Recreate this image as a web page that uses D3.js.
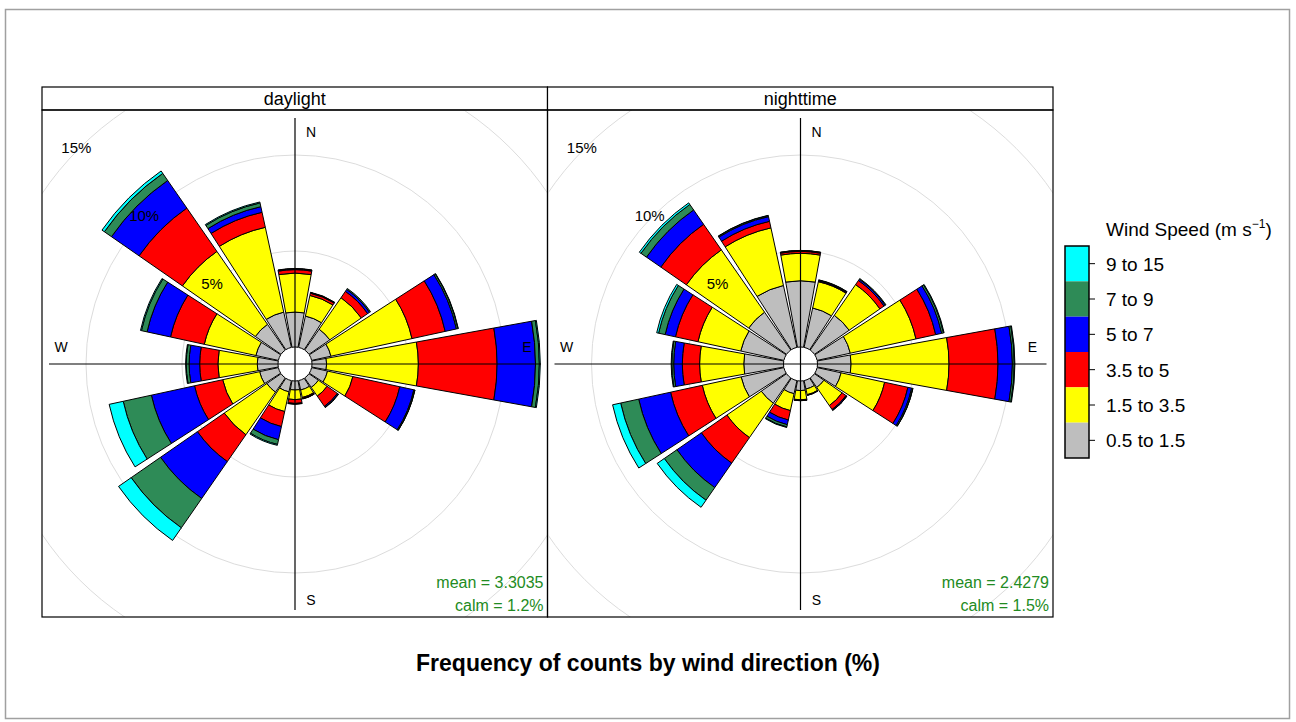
<!DOCTYPE html>
<html lang="en">
<head>
  <meta charset="utf-8">
  <title>Wind rose: daylight vs nighttime</title>
  <script src="https://d3js.org/d3.v7.min.js"></script>
  <style>
    body { margin: 0; background: #fff; }
    text { font-family: "Liberation Sans", Arial, sans-serif; }
  </style>
</head>
<body>
<script>
// wind directions (16 sectors)
var dirs = ["N","NNE","NE","ENE","E","ESE","SE","SSE","S","SSW","SW","WSW","W","WNW","NW","NNW"];
var dirAngles = [0, 22.5, 45, 67.5, 90, 112.5, 135, 157.5, 180, 202.5, 225, 247.5, 270, 292.5, 315, 337.5];

// speed bins and colours
var speedBins = ["0.5 to 1.5", "1.5 to 3.5", "3.5 to 5", "5 to 7", "7 to 9", "9 to 15"];
var binColors = ["#bebebe", "#ffff00", "#ff0000", "#0000ff", "#2e8b57", "#00ffff"];

// frequency (%) per direction, daylight
var dayGray   = [1.82, 1.67, 1.32, 1.03, 0.76, 0.85, 0.60, 0.50, 0.47, 0.60, 0.90, 1.00, 1.08, 1.20, 1.63, 1.88];
var dayYellow = [2.03, 1.10, 2.00, 4.32, 4.78, 1.35, 0.55, 0.40, 0.50, 1.05, 2.70, 1.97, 2.05, 2.75, 4.62, 4.52];
var dayRed    = [0.18, 0.12, 0.40, 1.77, 4.10, 2.50, 0.65, 0.05, 0.20, 0.80, 1.70, 1.50, 0.95, 1.80, 2.75, 0.80];
var dayBlue   = [0.04, 0.03, 0.12, 0.60, 2.00, 0.75, 0.06, 0.02, 0.03, 0.70, 2.34, 2.30, 0.55, 1.25, 1.75, 0.30];
var dayGreen  = [0.02, 0.02, 0.06, 0.08, 0.20, 0.05, 0.02, 0.01, 0.01, 0.25, 1.86, 1.50, 0.15, 0.30, 0.45, 0.20];
var dayCyan   = [0.00, 0.00, 0.00, 0.02, 0.05, 0.01, 0.00, 0.00, 0.00, 0.05, 0.80, 0.75, 0.03, 0.05, 0.15, 0.05];

// frequency (%) per direction, nighttime
var nightGray   = [3.45, 2.10, 2.20, 1.77, 1.75, 1.28, 0.60, 0.45, 0.50, 0.70, 1.60, 2.28, 2.07, 2.30, 2.40, 3.30];
var nightYellow = [1.43, 1.40, 1.95, 3.50, 5.10, 2.32, 1.15, 0.30, 0.48, 0.90, 2.18, 2.07, 2.30, 2.28, 3.95, 3.07];
var nightRed    = [0.10, 0.04, 0.26, 1.05, 2.55, 1.24, 0.25, 0.03, 0.04, 0.50, 1.62, 1.69, 0.90, 1.20, 1.62, 0.35];
var nightBlue   = [0.04, 0.04, 0.08, 0.32, 0.75, 0.20, 0.05, 0.01, 0.01, 0.25, 1.55, 1.70, 0.45, 0.55, 0.91, 0.25];
var nightGreen  = [0.01, 0.02, 0.04, 0.10, 0.10, 0.06, 0.01, 0.00, 0.00, 0.12, 0.80, 0.96, 0.10, 0.35, 0.35, 0.05];
var nightCyan   = [0.00, 0.00, 0.00, 0.03, 0.03, 0.01, 0.00, 0.00, 0.00, 0.03, 0.45, 0.43, 0.03, 0.10, 0.10, 0.02];

var panelNames = ["daylight", "nighttime"];
var meanLabels = ["mean = 3.3035", "mean = 2.4279"];
var calmLabels = ["calm = 1.2%", "calm = 1.5%"];
var ringTicks = [5, 10, 15, 20];
var ringLabels = ["5%", "10%", "15%"];

var panels = [
  { name: panelNames[0], series: [dayGray, dayYellow, dayRed, dayBlue, dayGreen, dayCyan], mean: meanLabels[0], calm: calmLabels[0] },
  { name: panelNames[1], series: [nightGray, nightYellow, nightRed, nightBlue, nightGreen, nightCyan], mean: meanLabels[1], calm: calmLabels[1] }
];

var W = 1296, H = 722;
var svg = d3.select("body").append("svg").attr("width", W).attr("height", H);

// outer frame
svg.append("rect").attr("x", 5.5).attr("y", 9.5).attr("width", 1284).attr("height", 709)
  .attr("fill", "#fff").attr("stroke", "#a0a0a0").attr("stroke-width", 1.5);

var panelLeft = 42, panelW = 505.5, stripTop = 87, stripBot = 110, panelBot = 617;
var cy = 364;

// radial scale: offset of 17px (calm circle), 19.2px per percent
var r = d3.scaleLinear().domain([0, 15]).range([17, 17 + 15 * 19.2]);
var halfW = (11.25 - 1) * Math.PI / 180;
var arc = d3.arc();
var axisLen = 246;

panels.forEach(function(p, pi) {
  var x0 = panelLeft + pi * panelW;
  var cx = x0 + 253;
  var g = svg.append("g");

  g.append("clipPath").attr("id", "clip" + pi)
    .append("rect").attr("x", x0).attr("y", stripBot).attr("width", panelW).attr("height", panelBot - stripBot);

  // grid rings
  var rings = g.append("g").attr("clip-path", "url(#clip" + pi + ")");
  rings.selectAll("circle").data(ringTicks).enter().append("circle")
    .attr("cx", cx).attr("cy", cy).attr("r", function(d) { return r(d); })
    .attr("fill", "none").attr("stroke", "#dcdcdc").attr("stroke-width", 1);

  // wedges, stacked outward by speed bin
  var wedges = g.append("g").attr("transform", "translate(" + cx + "," + cy + ")");
  dirs.forEach(function(dname, i) {
    var a = dirAngles[i] * Math.PI / 180;
    var cum = 0;
    p.series.forEach(function(s, k) {
      var v = s[i];
      if (v <= 0) return;
      wedges.append("path")
        .attr("d", arc({ innerRadius: r(cum), outerRadius: r(cum + v), startAngle: a - halfW, endAngle: a + halfW }))
        .attr("fill", binColors[k])
        .attr("stroke", "#000").attr("stroke-width", 1);
      cum += v;
    });
  });

  // axes
  g.append("line").attr("x1", cx).attr("x2", cx).attr("y1", cy - axisLen).attr("y2", cy + axisLen)
    .attr("stroke", "#000").attr("stroke-width", 1.2);
  g.append("line").attr("x1", cx - axisLen).attr("x2", cx + axisLen).attr("y1", cy).attr("y2", cy)
    .attr("stroke", "#000").attr("stroke-width", 1.2);

  // compass labels
  var comp = [["N", cx + 16, cy - 227], ["S", cx + 16, cy + 241], ["E", cx + 232, cy - 12], ["W", cx - 234, cy - 12]];
  comp.forEach(function(c) {
    g.append("text").attr("x", c[1]).attr("y", c[2]).attr("text-anchor", "middle")
      .attr("font-size", 14).attr("fill", "#000").text(c[0]);
  });

  // ring labels along 315 degrees
  ringLabels.forEach(function(lbl, j) {
    var rr = r(ringTicks[j]);
    g.append("text").attr("x", cx - rr * Math.SQRT1_2 - 3).attr("y", cy - rr * Math.SQRT1_2 + 5)
      .attr("text-anchor", "middle").attr("font-size", 15).attr("fill", "#000").text(lbl);
  });

  // mean / calm
  g.append("text").attr("x", x0 + panelW - 4).attr("y", 588).attr("text-anchor", "end")
    .attr("font-size", 16).attr("fill", "#228b22").text(p.mean);
  g.append("text").attr("x", x0 + panelW - 4).attr("y", 611).attr("text-anchor", "end")
    .attr("font-size", 16).attr("fill", "#228b22").text(p.calm);

  // strip and panel frame
  g.append("rect").attr("x", x0).attr("y", stripTop).attr("width", panelW).attr("height", stripBot - stripTop)
    .attr("fill", "#fff").attr("stroke", "#000").attr("stroke-width", 1.2);
  g.append("text").attr("x", x0 + panelW / 2).attr("y", stripBot - 5).attr("text-anchor", "middle")
    .attr("font-size", 18).attr("fill", "#000").text(p.name);
  g.append("rect").attr("x", x0).attr("y", stripBot).attr("width", panelW).attr("height", panelBot - stripBot)
    .attr("fill", "none").attr("stroke", "#000").attr("stroke-width", 1.2);
});

// title
svg.append("text").attr("x", 648).attr("y", 671).attr("text-anchor", "middle")
  .attr("font-size", 23).attr("font-weight", "bold").attr("fill", "#000")
  .text("Frequency of counts by wind direction (%)");

// legend
var legX = 1065, legY = 246, legW = 24, legH = 212;
var rowH = legH / speedBins.length;
var leg = svg.append("g");
var lt = leg.append("text").attr("x", 1106).attr("y", 236).attr("font-size", 19).attr("fill", "#000");
lt.append("tspan").text("Wind Speed (m s");
lt.append("tspan").attr("dy", -8).attr("font-size", 12).text("\u22121");
lt.append("tspan").attr("dy", 8).text(")");

speedBins.slice().reverse().forEach(function(lbl, j) {
  var k = speedBins.length - 1 - j;
  var y = legY + j * rowH;
  leg.append("rect").attr("x", legX).attr("y", y).attr("width", legW).attr("height", rowH)
    .attr("fill", binColors[k]);
  leg.append("line").attr("x1", legX + legW).attr("x2", legX + legW + 6)
    .attr("y1", y + rowH / 2).attr("y2", y + rowH / 2).attr("stroke", "#000");
  leg.append("text").attr("x", 1106).attr("y", y + rowH / 2 + 7).attr("font-size", 19).attr("fill", "#000").text(lbl);
});
leg.append("rect").attr("x", legX).attr("y", legY).attr("width", legW).attr("height", legH)
  .attr("fill", "none").attr("stroke", "#000").attr("stroke-width", 1.5);
</script>
</body>
</html>
